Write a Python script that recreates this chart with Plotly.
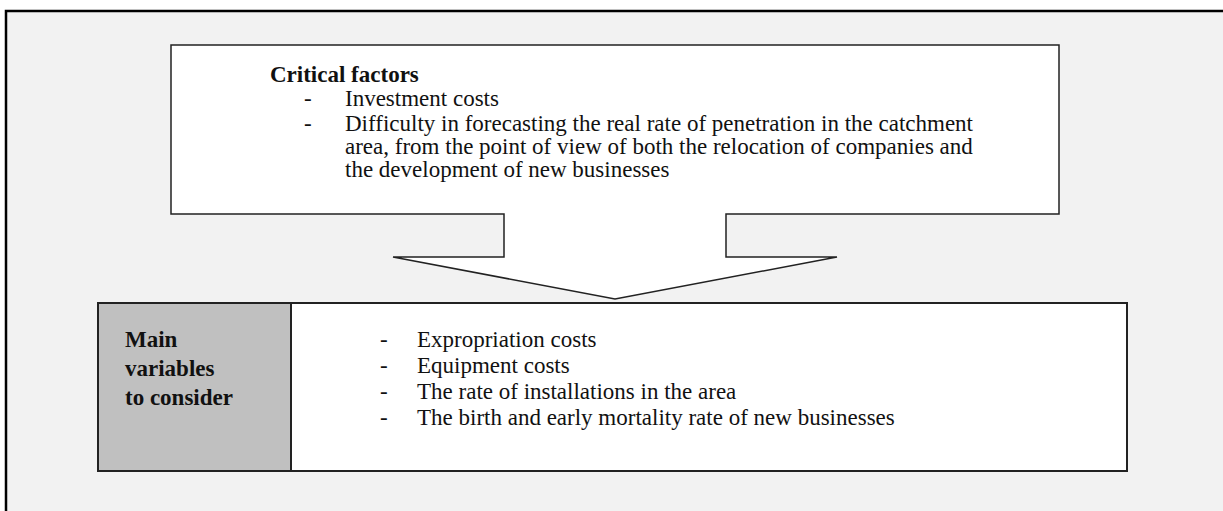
import plotly.graph_objects as go

# texts of the diagram
heading = "Critical factors"
critical_items = [
    ["Investment costs"],
    ["Difficulty in forecasting the real rate of penetration in the catchment",
     "area, from the point of view of both the relocation of companies and",
     "the development of new businesses"],
]
side_label = ["Main", "variables", "to consider"]
variables = [
    "Expropriation costs",
    "Equipment costs",
    "The rate of installations in the area",
    "The birth and early mortality rate of new businesses",
]

W, H = 1223, 511
FONT = "Liberation Serif"
FS = 23
INK = "#111111"
EDGE = "#222222"

fig = go.Figure()

shapes = []
# outer frame (top and left edges visible, rest runs off the page)
shapes.append(dict(type="rect", x0=6, y0=11, x1=1240, y1=530,
                   fillcolor="#f2f2f2", line=dict(color="black", width=2.5)))
# top box with arrow below it
shapes.append(dict(type="path",
                   path="M 171,45 L 1059,45 L 1059,214 L 726,214 L 726,257 L 837,257 "
                        "L 615,299 L 393,257 L 504,257 L 504,214 L 171,214 Z",
                   fillcolor="white", line=dict(color=EDGE, width=1.5)))
# bottom table
shapes.append(dict(type="rect", x0=98, y0=303, x1=1127, y1=471,
                   fillcolor="white", line=dict(color=EDGE, width=2)))
shapes.append(dict(type="rect", x0=98, y0=303, x1=291, y1=471,
                   fillcolor="#c0c0c0", line=dict(color=EDGE, width=2)))

ann = []
def txt(x, y, s, bold=False):
    ann.append(dict(x=x, y=y, text=f"<b>{s}</b>" if bold else s, showarrow=False,
                    xanchor="left", yanchor="middle", xref="x", yref="y",
                    font=dict(family=FONT, size=FS, color=INK)))

txt(268, 74, heading, bold=True)
y = 98
for item in critical_items:
    txt(302, y, "-")
    for line in item:
        txt(343, y, line)
        y += 23
    y += 2

for i, s in enumerate(side_label):
    txt(123, 339 + i * 29, s, bold=True)

for i, s in enumerate(variables):
    txt(378, 339 + i * 26, "-")
    txt(415, 339 + i * 26, s)

fig.update_layout(
    width=W, height=H, margin=dict(l=0, r=0, t=0, b=0),
    paper_bgcolor="white", plot_bgcolor="white",
    xaxis=dict(range=[0, W], visible=False, fixedrange=True),
    yaxis=dict(range=[H, 0], visible=False, fixedrange=True),
    shapes=shapes, annotations=ann, showlegend=False,
)

fig.write_html("out.html", config=dict(displayModeBar=False),
               post_script="document.body.style.margin='0px';")
